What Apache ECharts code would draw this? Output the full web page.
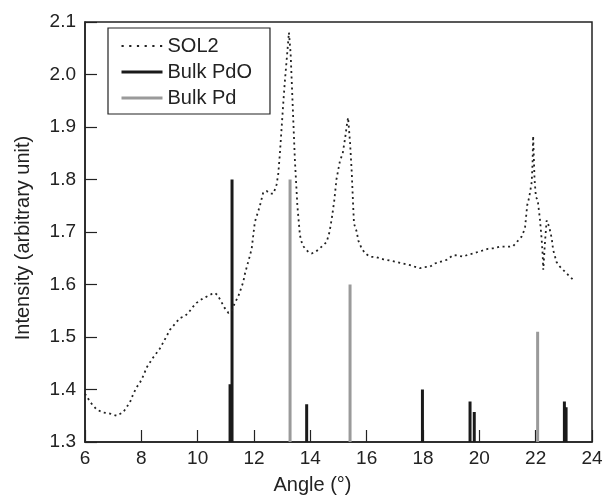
<!DOCTYPE html>
<html>
<head>
<meta charset="utf-8">
<script src="https://cdn.jsdelivr.net/npm/echarts@6/dist/echarts.min.js"></script>
<style>html,body{margin:0;padding:0;background:#fff}#c{width:606px;height:500px}</style>
</head>
<body>
<div id="c"></div>
<script>
// SOL2 measured curve [angle, intensity]
const sol2 = [[6.0,1.392],[6.2,1.375],[6.41,1.362],[6.65,1.356],[6.89,1.354],[7.12,1.350],[7.36,1.357],[7.6,1.376],[7.71,1.391],[7.83,1.404],[7.95,1.413],[8.07,1.426],[8.19,1.442],[8.42,1.461],[8.66,1.478],[8.78,1.49],[8.9,1.502],[9.02,1.514],[9.13,1.521],[9.37,1.536],[9.55,1.54],[9.67,1.546],[9.84,1.558],[9.96,1.565],[10.2,1.574],[10.32,1.577],[10.5,1.582],[10.61,1.584],[10.7,1.58],[10.79,1.572],[10.95,1.556],[11.09,1.546],[11.2,1.549],[11.32,1.565],[11.44,1.577],[11.5,1.58],[11.62,1.605],[11.68,1.621],[11.86,1.656],[11.92,1.669],[12.03,1.719],[12.21,1.75],[12.33,1.776],[12.45,1.778],[12.57,1.773],[12.69,1.773],[12.8,1.79],[12.86,1.81],[12.92,1.85],[13.04,1.946],[13.1,1.99],[13.16,2.028],[13.24,2.08],[13.3,2.04],[13.37,1.946],[13.45,1.839],[13.54,1.75],[13.63,1.694],[13.72,1.675],[13.81,1.669],[13.93,1.662],[14.05,1.659],[14.2,1.663],[14.34,1.669],[14.48,1.676],[14.58,1.681],[14.68,1.70],[14.76,1.725],[14.85,1.76],[14.93,1.801],[15.05,1.835],[15.15,1.85],[15.23,1.877],[15.3,1.905],[15.34,1.918],[15.41,1.87],[15.47,1.814],[15.52,1.75],[15.55,1.716],[15.65,1.70],[15.7,1.684],[15.82,1.669],[15.95,1.659],[16.12,1.653],[16.35,1.652],[16.59,1.648],[16.8,1.646],[17.06,1.643],[17.3,1.64],[17.54,1.637],[17.7,1.634],[17.89,1.631],[18.05,1.633],[18.25,1.634],[18.42,1.64],[18.6,1.643],[18.84,1.647],[19.07,1.656],[19.25,1.655],[19.43,1.653],[19.6,1.657],[19.78,1.659],[19.95,1.662],[20.14,1.665],[20.3,1.668],[20.49,1.669],[20.73,1.672],[20.85,1.672],[21.09,1.672],[21.2,1.673],[21.33,1.681],[21.5,1.691],[21.62,1.707],[21.7,1.751],[21.77,1.766],[21.86,1.795],[21.89,1.832],[21.91,1.883],[21.96,1.80],[22.01,1.766],[22.07,1.762],[22.13,1.76],[22.15,1.725],[22.21,1.688],[22.25,1.656],[22.27,1.628],[22.33,1.68],[22.39,1.722],[22.48,1.71],[22.57,1.688],[22.62,1.666],[22.74,1.643],[22.86,1.634],[23.1,1.621],[23.35,1.608]];

// Bulk PdO reference peaks
const pdoAngles = [11.15, 11.22, 13.87, 17.98, 19.67, 19.82, 23.02, 23.08];
const pdoHeights = [1.41, 1.80, 1.372, 1.40, 1.377, 1.357, 1.377, 1.366];

// Bulk Pd reference peaks
const pdAngles = [13.28, 15.41, 22.07];
const pdHeights = [1.80, 1.60, 1.51];

const baseLevel = 1.3;
const xTicks = [6, 8, 10, 12, 14, 16, 18, 20, 22, 24];
const yTicks = [1.3, 1.4, 1.5, 1.6, 1.7, 1.8, 1.9, 2.0, 2.1];

function sticks(xs, hs) {
  const out = [];
  xs.forEach((x, i) => { out.push([x, baseLevel]); out.push([x, hs[i]]); out.push([x, '-']); });
  return out;
}

const FONT = "'Liberation Sans', Arial, Helvetica, sans-serif";
const AX = '#222';
const HIDE = {color: 'rgba(0,0,0,0)', borderColor: 'rgba(0,0,0,0)', borderWidth: 0};
const chart = echarts.init(document.getElementById('c'), null, {renderer: 'canvas'});
chart.setOption({
  animation: false,
  backgroundColor: '#fff',
  textStyle: {fontFamily: FONT},
  grid: {left: 85, right: 14, top: 22, bottom: 55, show: true, borderColor: AX, borderWidth: 1.5, backgroundColor: 'transparent'},
  legend: {
    orient: 'vertical', left: 108, top: 28,
    padding: [8, 18, 6, 12],
    borderColor: AX, borderWidth: 1.2,
    itemWidth: 41, itemHeight: 14, itemGap: 6,
    itemStyle: HIDE,
    textStyle: {fontSize: 20, color: '#222', fontFamily: FONT},
    data: [
      {name: 'SOL2', itemStyle: HIDE, lineStyle: {color: '#222', width: 1.8, type: [2.2, 5.5]}},
      {name: 'Bulk PdO', itemStyle: HIDE, lineStyle: {color: '#1a1a1a', width: 3, type: 'solid'}},
      {name: 'Bulk Pd', itemStyle: HIDE, lineStyle: {color: '#9a9a9a', width: 3, type: 'solid'}}
    ]
  },
  xAxis: {
    type: 'value', min: xTicks[0], max: xTicks[xTicks.length - 1], interval: 2,
    name: 'Angle (°)', nameLocation: 'middle', nameGap: 33,
    nameTextStyle: {fontSize: 20, color: '#222', padding: [0, 52, 0, 0]},
    axisLine: {lineStyle: {color: AX, width: 1.5}},
    axisTick: {inside: true, length: 12, lineStyle: {color: AX, width: 1.2}},
    axisLabel: {fontSize: 19, color: '#222', margin: 7},
    splitLine: {show: false}
  },
  yAxis: {
    type: 'value', min: yTicks[0], max: yTicks[yTicks.length - 1], interval: 0.1,
    name: 'Intensity (arbitrary unit)', nameLocation: 'middle', nameGap: 52,
    nameTextStyle: {fontSize: 20, color: '#222', padding: [0, 12, 0, 0]},
    axisLine: {lineStyle: {color: AX, width: 1.5}},
    axisTick: {inside: true, length: 12, lineStyle: {color: AX, width: 1.2}},
    axisLabel: {fontSize: 19, color: '#222', margin: 9, formatter: v => v.toFixed(1)},
    splitLine: {show: false}
  },
  series: [
    {name: 'SOL2', type: 'line', data: sol2, showSymbol: false, symbol: 'none', smooth: false,
     itemStyle: HIDE, lineStyle: {color: '#222', width: 1.8, type: [2, 3.5]}, z: 3},
    {name: 'Bulk PdO', type: 'line', data: sticks(pdoAngles, pdoHeights), showSymbol: false, symbol: 'none', connectNulls: false,
     itemStyle: HIDE, lineStyle: {color: '#1a1a1a', width: 3}, z: 2},
    {name: 'Bulk Pd', type: 'line', data: sticks(pdAngles, pdHeights), showSymbol: false, symbol: 'none', connectNulls: false,
     itemStyle: HIDE, lineStyle: {color: '#9a9a9a', width: 3}, z: 2}
  ]
});
</script>
</body>
</html>
